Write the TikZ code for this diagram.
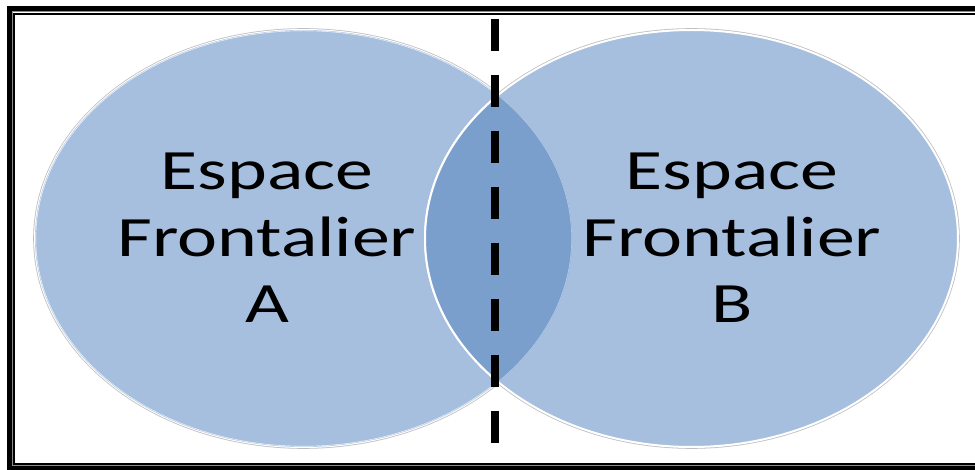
\documentclass[tikz,border=0pt]{standalone}
\usepackage{fontspec}
\newfontfamily\labelfont[FakeStretch=1.33]{Carlito}
\definecolor{lightblue}{HTML}{A7BFDE}
\definecolor{darkblue}{HTML}{7B9FCC}
\definecolor{edgeblue}{HTML}{B9CDE6}
\tikzset{
  shadowline/.style={draw=black!25, line width=3.6pt},
  bubble/.style={fill=lightblue, draw=white, line width=2pt},
  zonelabel/.style={align=center, inner sep=0pt, text=black,
    font=\labelfont\fontsize{57}{66.5}\selectfont},
  borderline/.style={dashed, line width=8pt, dash pattern=on 32pt off 24pt}
}
\begin{document}
\begin{tikzpicture}[x=1pt,y=-1pt]
\useasboundingbox (0,0) rectangle (975,470);
\fill[white] (0,0) rectangle (975,470);
% frame
\draw[line width=5pt] (9.8,8.5) rectangle (995,468.5);
\draw[black!45, line width=0.8pt] (12.3,11.8) rectangle (995,465.3);
\draw[line width=2pt] (14.3,13.9) rectangle (995,463.6);
% ellipses
\path[shadowline] (303.5,238.5) ellipse [x radius=268.5, y radius=208.5];
\path[shadowline] (691.5,238.5) ellipse [x radius=266.5, y radius=208.5];
\path[bubble] (303.5,238.5) ellipse [x radius=268.5, y radius=208.5];
\path[bubble] (691.5,238.5) ellipse [x radius=266.5, y radius=208.5];
% overlap
\begin{scope}
  \clip (303.5,238.5) ellipse [x radius=268.5, y radius=208.5];
  \path[fill=darkblue] (691.5,238.5) ellipse [x radius=266.5, y radius=208.5];
  \draw[edgeblue, line width=1.2pt] (303.5,238.5) ellipse [x radius=268.5, y radius=208.5];
  \draw[white, line width=2pt] (691.5,238.5) ellipse [x radius=266.5, y radius=208.5];
\end{scope}
% labels
\node[zonelabel] (labA) at (267,238) {Espace\\Frontalier\\A};
\node[zonelabel] (labB) at (732,238) {Espace\\Frontalier\\B};
% dashed border
\coordinate (ltop) at (495,19);
\coordinate (lbot) at (495,443);
\draw[borderline] (ltop) -- (lbot);
\end{tikzpicture}
\end{document}
